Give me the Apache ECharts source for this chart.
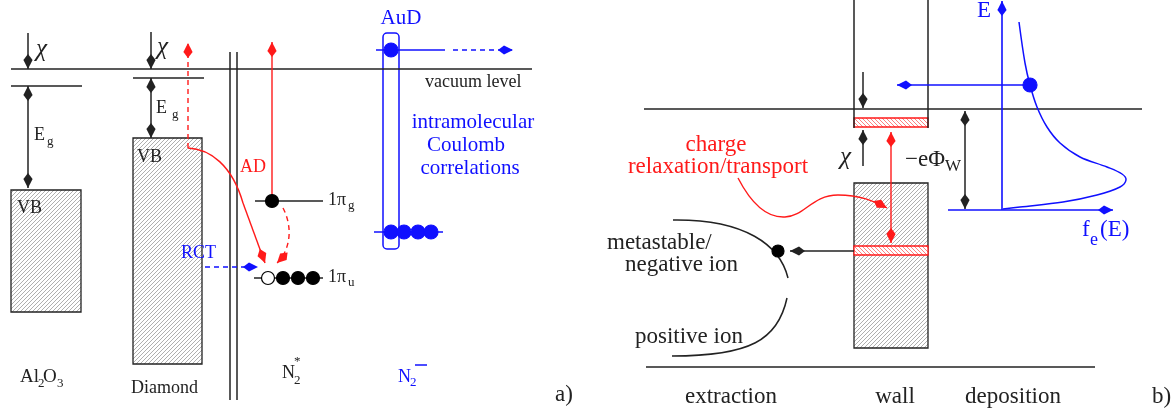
<!DOCTYPE html>
<html lang="en">
<head>
<meta charset="UTF-8">
<title>Energy level schemes</title>
<script src="https://cdn.jsdelivr.net/npm/echarts@6.0.0/dist/echarts.min.js"></script>
<style>
  html, body { margin: 0; height: 100%; background: #fff; }
  #fig { width: 1176px; height: 420px; }
</style>
</head>
<body>
<div id="fig"></div>
<script>
// figure units: x 0..1176 to the right, y 0..420 downwards

// straight lines [x1, y1, x2, y2]
const blackLines = [
  [11, 69, 532, 69],      // vacuum level (a)
  [11, 86, 82, 86],       // Al2O3 CB edge
  [133, 78, 204, 78],     // diamond CB edge
  [230, 52, 230, 400],
  [237, 52, 237, 400],
  [255, 201, 323, 201],   // 1pi_g
  [254, 278, 323, 278],   // 1pi_u
  [644, 109, 1142, 109],  // vacuum level (b)
  [646, 367, 1095, 367],
  [854, 0, 854, 128],
  [928, 0, 928, 128]
];
const blueLines = [
  [376, 50, 445, 50],
  [374, 232, 443, 232],
  [415, 365, 427, 365]
];

// arrows [x1, y1, x2, y2, headAtStart, headAtEnd, dashed]
const blackArrows = [
  [28, 33, 28, 69, 0, 1, 0],
  [28, 86, 28, 188, 1, 1, 0],
  [151, 32, 151, 69, 0, 1, 0],
  [151, 78, 151, 138, 1, 1, 0],
  [863, 72, 863, 108, 0, 1, 0],
  [863, 166, 863, 130, 0, 1, 0],
  [965, 111, 965, 209, 1, 1, 0],
  [854, 251, 790, 251, 0, 1, 0]
];
const redArrows = [
  [272, 200, 272, 42, 0, 1, 0],
  [188, 148, 188, 43, 0, 1, 1],
  [891, 132, 891, 243, 1, 1, 0],
  [243, 203, 265, 263, 0, 1, 0]
];
const blueArrows = [
  [453, 50, 513, 50, 0, 1, 1],
  [205, 267, 258, 267, 0, 1, 1],
  [1002, 210, 1002, 1, 0, 1, 0],
  [948, 210, 1113, 210, 0, 1, 0],
  [1030, 85, 897, 85, 0, 1, 0]
];

// cubic curves [x0, y0, c1x, c1y, c2x, c2y, x3, y3, headAtEnd, dashed]
const redCurves = [
  [188, 148, 210, 149, 232, 165, 243, 203, 0, 0],
  [283, 208, 292, 225, 292, 248, 277, 263, 1, 1],
  [738, 178, 752, 205, 768, 218, 785, 217, 0, 0],
  [785, 217, 805, 216, 812, 195, 838, 195, 0, 0],
  [838, 195, 860, 195, 874, 201, 887, 208, 1, 0]
];
const blackCurves = [
  [673, 220, 745, 219, 780, 245, 788, 278, 0, 0],
  [787, 298, 778, 340, 750, 356, 672, 356, 0, 0]
];

// electron distribution f_e(E)
const feCurve = [
  [1019, 22], [1025, 63], [1030, 85], [1037, 107], [1047, 127], [1060, 143],
  [1080, 157], [1107, 167], [1122, 174], [1126, 180], [1120, 187], [1097, 195],
  [1063, 202], [1020, 207], [1003, 209]
];

// dots [x, y, r, filled]
const blackDots = [
  [272, 201, 6.5, 1], [268, 278, 6.5, 0], [283, 278, 6.5, 1], [298, 278, 6.5, 1],
  [313, 278, 6.5, 1], [778, 251, 6, 1]
];
const blueDots = [
  [391, 50, 7, 1], [391, 232, 7, 1], [404, 232, 7, 1], [418, 232, 7, 1],
  [431, 232, 7, 1], [1030, 85, 7, 1]
];

// boxes [x1, y1, x2, y2]
const grayBoxes = [[11, 190, 81, 312], [133, 138, 202, 364], [854, 183, 928, 348]];
const redBars = [[854, 118, 928, 127], [854, 246, 928, 255]];
const blueFrames = [[383, 33, 399, 249]];

// texts [text, x, y]
const textsA = [
  ['VB', 17, 208], ['VB', 137, 157], ['Diamond', 131, 388], ['E', 34, 135], ['E', 156, 108],
  ['1π', 328, 200], ['1π', 328, 277], ['N', 282, 373], ['vacuum level', 425, 82]
];
const alText = [['Al', 20, 377], ['O', 43, 377]];
const subsA = [
  ['g', 47, 142], ['g', 172, 115], ['2', 38, 384], ['3', 57, 384],
  ['g', 348, 206], ['u', 348, 283], ['2', 294, 381], ['*', 294, 362]
];
const chiTexts = [['χ', 36, 49], ['χ', 157, 47], ['χ', 840, 157]];
const redTextsA = [['AD', 240, 167]];
const blueTextsA = [['RCT', 181, 253], ['N', 398, 377]];
const blueSubsA = [['2', 410, 383]];
const blueCentered = [
  ['AuD', 401, 18], ['intramolecular', 473, 122], ['Coulomb', 466, 145], ['correlations', 470, 168]
];
const textsB = [
  ['a)', 555, 395], ['metastable/', 607, 243], ['negative ion', 625, 265],
  ['positive ion', 635, 337], ['−eΦ', 905, 160], ['b)', 1152, 397]
];
const subsB = [['W', 945, 167]];
const centeredB = [['extraction', 731, 397], ['wall', 895, 397], ['deposition', 1013, 397]];
const redCenteredB = [['charge', 716, 145], ['relaxation/transport', 718, 167]];
const blueTextsB = [['E', 977, 11], ['f', 1082, 230], ['(E)', 1100, 230]];
const blueSubsB = [['e', 1090, 240]];

const BLACK = '#222', RED = '#ff1a1a', BLUE = '#1010ff';
const SERIF = '"Liberation Serif", "DejaVu Serif", serif';

function hatch(color, dir) {
  const n = 4;
  const c = document.createElement('canvas');
  c.width = c.height = n;
  const g = c.getContext('2d');
  g.fillStyle = '#fff';
  g.fillRect(0, 0, n, n);
  g.strokeStyle = color;
  g.lineWidth = 0.8;
  g.beginPath();
  if (dir > 0) {
    g.moveTo(-1, n + 1); g.lineTo(n + 1, -1);
    g.moveTo(-1, 1); g.lineTo(1, -1);
    g.moveTo(n - 1, n + 1); g.lineTo(n + 1, n - 1);
  } else {
    g.moveTo(-1, -1); g.lineTo(n + 1, n + 1);
    g.moveTo(n - 1, -1); g.lineTo(n + 1, 1);
    g.moveTo(-1, n - 1); g.lineTo(1, n + 1);
  }
  g.stroke();
  return c;
}

function kite(tip, from, color) {
  let dx = tip[0] - from[0], dy = tip[1] - from[1];
  const len = Math.hypot(dx, dy) || 1;
  const ux = dx / len, uy = dy / len, nx = -uy, ny = ux;
  const L = 9, B = 15, W = 4.6;
  return {
    type: 'polygon',
    shape: { points: [
      tip,
      [tip[0] - L * ux + W * nx, tip[1] - L * uy + W * ny],
      [tip[0] - B * ux, tip[1] - B * uy],
      [tip[0] - L * ux - W * nx, tip[1] - L * uy - W * ny]
    ] },
    style: { fill: color }
  };
}

function base(list, renderItem) {
  return {
    type: 'custom', coordinateSystem: 'cartesian2d', silent: true, clip: false,
    animation: false, data: list, renderItem
  };
}

function lineSeries(list, color, width) {
  return base(list, (p, api) => {
    const a = api.coord([api.value(0), api.value(1)]);
    const b = api.coord([api.value(2), api.value(3)]);
    return { type: 'line', shape: { x1: a[0], y1: a[1], x2: b[0], y2: b[1] },
      style: { stroke: color, lineWidth: width } };
  });
}

function arrowSeries(list, color, width) {
  return base(list, (p, api) => {
    const a = api.coord([api.value(0), api.value(1)]);
    const b = api.coord([api.value(2), api.value(3)]);
    const kids = [{ type: 'line', shape: { x1: a[0], y1: a[1], x2: b[0], y2: b[1] },
      style: { stroke: color, lineWidth: width, lineDash: api.value(6) ? [5, 4] : null } }];
    if (api.value(4)) kids.push(kite(a, b, color));
    if (api.value(5)) kids.push(kite(b, a, color));
    return { type: 'group', children: kids };
  });
}

function curveSeries(list, color, width) {
  return base(list, (p, api) => {
    const q = [0, 2, 4, 6].map(i => api.coord([api.value(i), api.value(i + 1)]));
    const kids = [{ type: 'bezierCurve',
      shape: { x1: q[0][0], y1: q[0][1], cpx1: q[1][0], cpy1: q[1][1],
               cpx2: q[2][0], cpy2: q[2][1], x2: q[3][0], y2: q[3][1] },
      style: { stroke: color, fill: null, lineWidth: width, lineDash: api.value(9) ? [5, 4] : null } }];
    if (api.value(8)) kids.push(kite(q[3], q[2], color));
    return { type: 'group', children: kids };
  });
}

function dotSeries(list, color) {
  return base(list, (p, api) => {
    const c = api.coord([api.value(0), api.value(1)]);
    return { type: 'circle', shape: { cx: c[0], cy: c[1], r: api.value(2) },
      style: { fill: api.value(3) ? color : '#fff', stroke: color, lineWidth: 1.2 } };
  });
}

function boxSeries(list, fill, stroke, width, radius) {
  return base(list, (p, api) => {
    const a = api.coord([api.value(0), api.value(1)]);
    const b = api.coord([api.value(2), api.value(3)]);
    return { type: 'rect',
      shape: { x: a[0], y: a[1], width: b[0] - a[0], height: b[1] - a[1], r: radius || 0 },
      style: { fill: fill, stroke: stroke, lineWidth: width } };
  });
}

function textSeries(list, font, color, align) {
  return base(list.map(t => [t[1], t[2]]), (p, api) => {
    const c = api.coord([api.value(0), api.value(1)]);
    return { type: 'text', x: c[0], y: c[1],
      style: { text: list[p.dataIndex][0], font: font, fill: color,
               align: align, textAlign: align, verticalAlign: 'middle', textVerticalAlign: 'middle' } };
  });
}

const feSeries = base([feCurve[0]], (p, api) => ({
  type: 'polyline',
  shape: { points: feCurve.map(d => api.coord(d)), smooth: 0.35 },
  style: { stroke: BLUE, fill: null, lineWidth: 1.5 }
}));

const chart = echarts.init(document.getElementById('fig'));
chart.setOption({
  animation: false,
  backgroundColor: '#fff',
  grid: { left: 0, right: 0, top: 0, bottom: 0 },
  xAxis: { type: 'value', min: 0, max: 1176, show: false },
  yAxis: { type: 'value', min: 0, max: 420, inverse: true, show: false },
  series: [
    boxSeries(grayBoxes, { image: hatch('#9a9a9a', 1), repeat: 'repeat' }, BLACK, 1.3),
    boxSeries(redBars, { image: hatch('#ff6060', -1), repeat: 'repeat' }, RED, 1.3),
    boxSeries(blueFrames, null, BLUE, 1.5, 4),
    lineSeries(blackLines, BLACK, 1.5),
    lineSeries(blueLines, BLUE, 1.5),
    arrowSeries(blackArrows, BLACK, 1.5),
    arrowSeries(redArrows, RED, 1.4),
    arrowSeries(blueArrows, BLUE, 1.6),
    curveSeries(redCurves, RED, 1.4),
    curveSeries(blackCurves, BLACK, 1.5),
    feSeries,
    dotSeries(blackDots, '#000'),
    dotSeries(blueDots, BLUE),
    textSeries(textsA, '18px ' + SERIF, BLACK, 'left'),
    textSeries(alText, '19px ' + SERIF, BLACK, 'left'),
    textSeries(subsA, '13px ' + SERIF, BLACK, 'left'),
    textSeries(chiTexts, 'italic 25px ' + SERIF, BLACK, 'left'),
    textSeries(redTextsA, '18px ' + SERIF, RED, 'left'),
    textSeries(blueTextsA, '18px ' + SERIF, BLUE, 'left'),
    textSeries(blueSubsA, '13px ' + SERIF, BLUE, 'left'),
    textSeries(blueCentered, '21px ' + SERIF, BLUE, 'center'),
    textSeries(textsB, '23px ' + SERIF, BLACK, 'left'),
    textSeries(subsB, '17px ' + SERIF, BLACK, 'left'),
    textSeries(centeredB, '23px ' + SERIF, BLACK, 'center'),
    textSeries(redCenteredB, '23px ' + SERIF, RED, 'center'),
    textSeries(blueTextsB, '23px ' + SERIF, BLUE, 'left'),
    textSeries(blueSubsB, '18px ' + SERIF, BLUE, 'left')
  ]
});
</script>
</body>
</html>
